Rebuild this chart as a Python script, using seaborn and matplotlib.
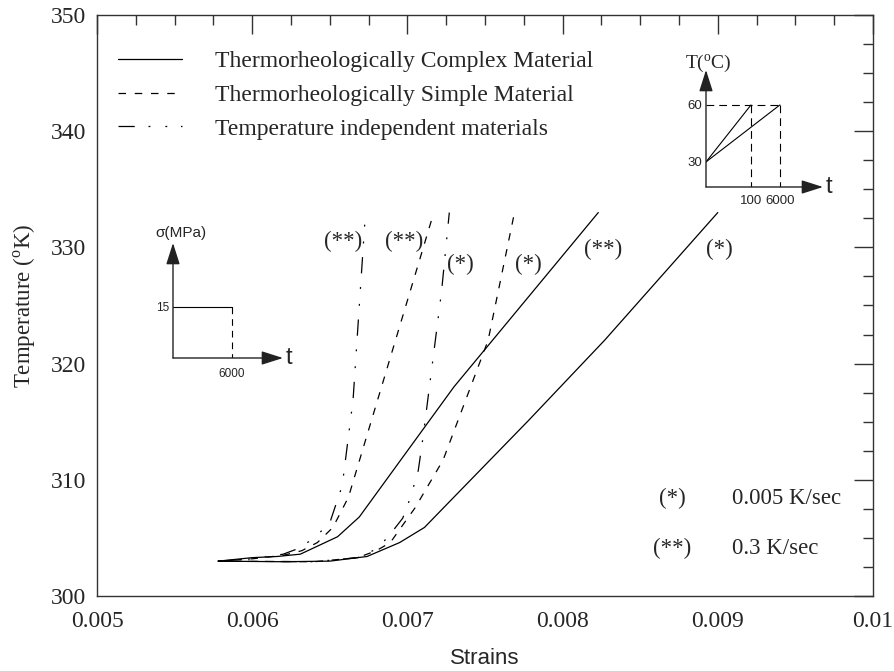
import matplotlib
matplotlib.use('Agg')
import matplotlib.pyplot as plt
from matplotlib.ticker import MultipleLocator, FuncFormatter, NullLocator
from matplotlib.lines import Line2D
import seaborn as sns

# curves: strain vs temperature (K)
strain_complex_fast = [0.00578, 0.00600, 0.00616, 0.00631, 0.00655, 0.00669, 0.00730, 0.00823]
temp_complex_fast = [303.0, 303.3, 303.4, 303.6, 305.1, 306.8, 318.0, 333.0]

strain_complex_slow = [0.00578, 0.00620, 0.00650, 0.00674, 0.00695, 0.00711, 0.00727, 0.00778, 0.00827, 0.00900]
temp_complex_slow = [303.0, 302.95, 303.0, 303.4, 304.6, 305.9, 308.1, 315.1, 322.0, 333.0]

strain_simple_fast = [0.00578, 0.00600, 0.00620, 0.00632, 0.00642, 0.00652, 0.00662, 0.00717]
temp_simple_fast = [303.0, 303.2, 303.5, 303.9, 304.6, 305.9, 308.5, 333.0]

strain_simple_slow = [0.00578, 0.00640, 0.00668, 0.00680, 0.00689, 0.00705, 0.00723, 0.00752, 0.00769]
temp_simple_slow = [303.0, 302.95, 303.3, 303.9, 304.6, 307.6, 311.7, 322.0, 333.0]

strain_indep_fast = [0.00578, 0.00600, 0.00620, 0.00630, 0.00640, 0.00650, 0.00658, 0.00665, 0.00673]
temp_indep_fast = [303.0, 303.2, 303.6, 304.1, 305.0, 306.3, 309.5, 316.9, 333.0]

strain_indep_slow = [0.00578, 0.00640, 0.00668, 0.00681, 0.00690, 0.00697, 0.00702, 0.00707, 0.00710, 0.00722, 0.00727]
temp_indep_slow = [303.0, 302.95, 303.3, 304.1, 305.5, 306.7, 308.5, 310.8, 313.6, 326.2, 333.0]

legend_labels = ['Thermorheologically Complex Material',
                 'Thermorheologically Simple Material',
                 'Temperature independent materials']

# inset schematics
ramp_temps = [30, 60]        # T (C)
ramp_end_times = [100, 6000]  # t
stress_level = 15            # MPa
hold_time = 6000

sns.set_theme(style='white')
plt.rcParams['font.family'] = ['Liberation Serif', 'DejaVu Serif']
plt.rcParams['mathtext.fontset'] = 'custom'
plt.rcParams['mathtext.rm'] = 'Liberation Serif'
plt.rcParams['axes.edgecolor'] = '#333333'
plt.rcParams['axes.linewidth'] = 1.0

SOLID = '-'
DASHED = (0, (6, 7))
DASHDOT = (0, (13, 11, 1.5, 12, 1.5, 11))
SANS = 'Liberation Sans'

W, H = 895, 671
fig = plt.figure(figsize=(W / 100, H / 100), dpi=100)
ax = fig.add_axes([97 / W, 1 - 596 / H, 776 / W, 581 / H])

curves = [
    (strain_complex_fast, temp_complex_fast, SOLID),
    (strain_complex_slow, temp_complex_slow, SOLID),
    (strain_simple_fast, temp_simple_fast, DASHED),
    (strain_simple_slow, temp_simple_slow, DASHED),
    (strain_indep_fast, temp_indep_fast, DASHDOT),
    (strain_indep_slow, temp_indep_slow, DASHDOT),
]
for xs, ys, ls in curves:
    sns.lineplot(x=xs, y=ys, ax=ax, color='black', lw=0.9, linestyle=ls,
                 sort=False, estimator=None)

ax.set_xlim(0.005, 0.01)
ax.set_ylim(300, 350)
ax.xaxis.set_major_locator(MultipleLocator(0.001))
ax.xaxis.set_minor_locator(MultipleLocator(0.00025))
ax.yaxis.set_major_locator(MultipleLocator(10))
ax.yaxis.set_minor_locator(MultipleLocator(2.5))
ax.xaxis.set_major_formatter(FuncFormatter(lambda v, p: f'{v:g}'))
ax.yaxis.set_major_formatter(FuncFormatter(lambda v, p: f'{v:g}'))
ax.tick_params(which='both', direction='in', top=True, right=True,
               color='#333333', width=1.0, labelsize=17)
ax.tick_params(which='major', length=13.5)
ax.tick_params(which='minor', length=7)
ax.tick_params(axis='x', pad=11)
ax.tick_params(axis='y', pad=8)

ax.set_xlabel('Strains', family=SANS, fontsize=16, labelpad=11)
ax.set_ylabel(r'Temperature ($^{\mathrm{o}}$K)', fontsize=16.5, labelpad=9)

handles = [Line2D([], [], color='black', lw=0.9, linestyle=ls) for ls in (SOLID, DASHED, DASHDOT)]
ax.legend(handles, legend_labels, loc='upper left', bbox_to_anchor=(0.027, 0.939),
          frameon=False, fontsize=17, borderpad=0, borderaxespad=0,
          handlelength=2.7, handletextpad=1.4, labelspacing=0.52)

# curve labels
for x, y, s in [(0.006585, 330.55, '(**)'), (0.006978, 330.55, '(**)'),
                (0.007339, 328.57, '(*)'), (0.007777, 328.57, '(*)'),
                (0.008260, 329.86, '(**)'), (0.009008, 329.86, '(*)')]:
    ax.text(x, y, s, fontsize=16.5, ha='center', va='center')

ax.text(0.008705, 308.43, '(*)', fontsize=16.5, ha='center', va='center')
ax.text(0.009091, 308.43, '0.005 K/sec', fontsize=16.5, ha='left', va='center')
ax.text(0.008705, 304.13, '(**)', fontsize=16.5, ha='center', va='center')
ax.text(0.009091, 304.13, '0.3 K/sec', fontsize=16.5, ha='left', va='center')


def arrow_axes(a):
    for sp in a.spines.values():
        sp.set_visible(False)
    a.set_facecolor('none')
    props = dict(arrowstyle='-|>,head_length=1.1,head_width=0.35', lw=1.0,
                 color='#222222', shrinkA=0, shrinkB=0)
    a.annotate('', xy=(1, 0), xytext=(0, 0), xycoords='axes fraction', arrowprops=props)
    a.annotate('', xy=(0, 1), xytext=(0, 0), xycoords='axes fraction', arrowprops=props)
    a.tick_params(length=0, labelsize=9.5)
    for lab in a.get_xticklabels() + a.get_yticklabels():
        lab.set_family(SANS)
    a.text(1.02, 0, 't', transform=a.transAxes, fontsize=17, family=SANS,
           ha='left', va='center')


# temperature history inset (top right)
ins1 = fig.add_axes([706 / W, 1 - 187 / H, 117 / W, 117 / H])
ins1.set_xscale('log')
t0, t1 = 0.17, 2.7e6
ins1.set_xlim(t0, t1)
ins1.set_ylim(16.8, 78.4)
for te in ramp_end_times:
    ins1.plot([t0, te], ramp_temps, color='black', lw=0.8)
    ins1.plot([te, te], [ramp_temps[1], 16.8], color='black', lw=0.8, linestyle=(0, (7, 4.5)))
ins1.plot([t0, ramp_end_times[1]], [ramp_temps[1]] * 2, color='black', lw=0.8,
          linestyle=(0, (7, 4.5)))
ins1.xaxis.set_minor_locator(NullLocator())
ins1.set_xticks(ramp_end_times, [str(t) for t in ramp_end_times])
ins1.set_yticks(ramp_temps, [str(t) for t in ramp_temps])
ins1.tick_params(axis='x', pad=6)
ins1.tick_params(axis='y', pad=3)
arrow_axes(ins1)
ins1.text(0.017, 1.017, r'T($^{\mathrm{o}}$C)', transform=ins1.transAxes, fontsize=14,
          ha='center', va='baseline')

# stress history inset (left)
ins2 = fig.add_axes([173 / W, 1 - 358 / H, 110 / W, 115 / H])
ins2.set_xlim(0, 11190)
ins2.set_ylim(0, 33.8)
ins2.plot([0, hold_time], [stress_level, stress_level], color='black', lw=0.8)
ins2.plot([hold_time, hold_time], [stress_level, 0], color='black', lw=0.8,
          linestyle=(0, (6, 4.5)))
ins2.set_xticks([hold_time], [str(hold_time)])
ins2.set_yticks([stress_level], [str(stress_level)])
ins2.tick_params(axis='x', pad=7)
ins2.tick_params(axis='y', pad=3)
arrow_axes(ins2)
for lab in ins2.get_xticklabels() + ins2.get_yticklabels():
    lab.set_fontsize(8.5)
ins2.text(0.073, 1.052, 'σ(MPa)', transform=ins2.transAxes, fontsize=11, family=SANS,
          ha='center', va='baseline')

fig.savefig('out.png', dpi=100)
